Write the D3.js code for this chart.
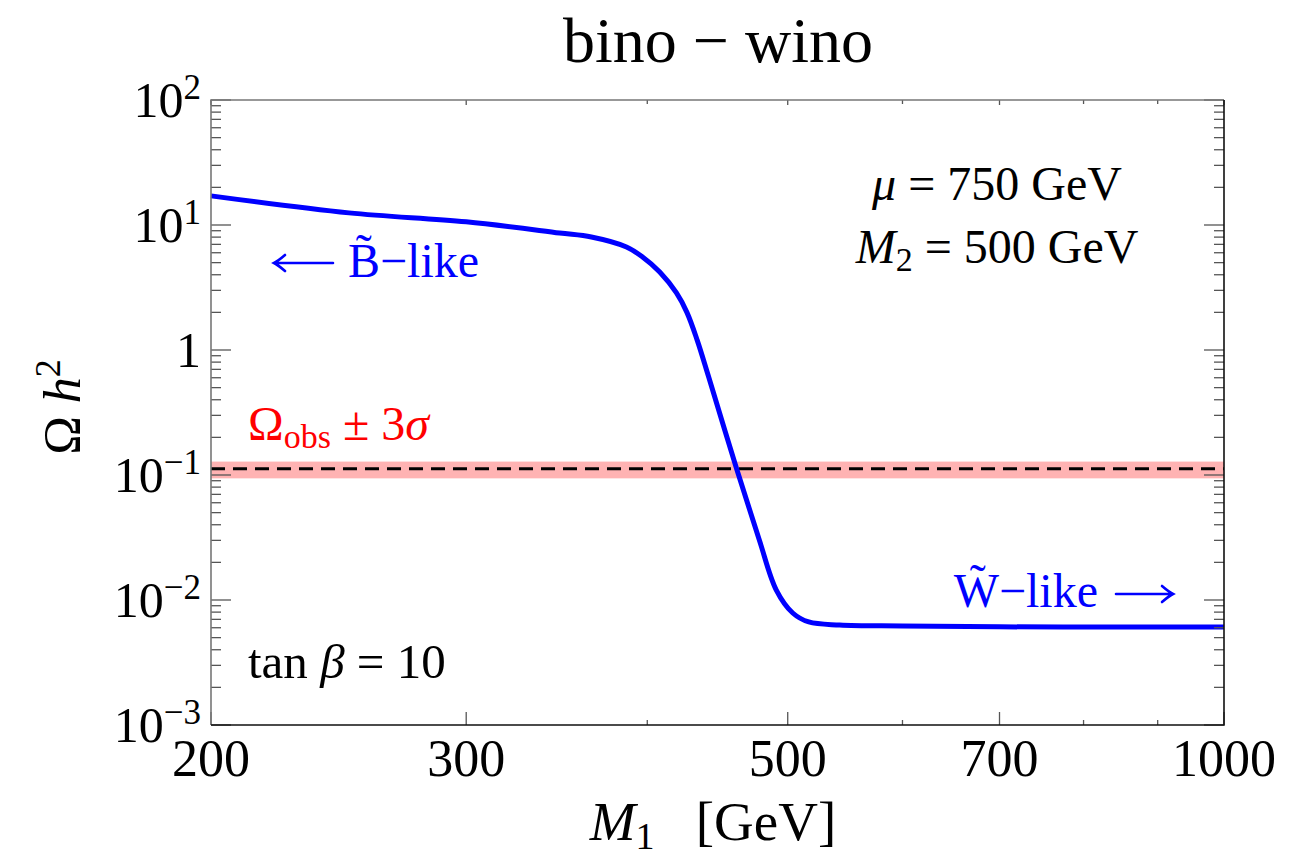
<!DOCTYPE html>
<html><head><meta charset="utf-8">
<script src="https://cdn.jsdelivr.net/npm/d3@7"></script>
<style>
body{margin:0;background:#fff}
text{font-family:"Liberation Serif","Times New Roman",Times,serif}
</style>
</head><body>
<svg id="c" width="1312" height="861"></svg>
<script>
// ---- data ----
const m1Values = [200, 249, 300, 348, 366, 387, 397, 408, 419, 426, 433, 441, 461, 478, 491, 504, 517, 543, 600, 700, 850, 1000];
const omegaValues = [17.1, 12.5, 10.6, 8.63, 8.02, 6.67, 5.55, 4.21, 2.86, 2.0, 1.2, 0.608, 0.112, 0.030, 0.012, 0.00787, 0.00667, 0.00631, 0.0062, 0.0061, 0.00608, 0.00608];
const omegaObs = 0.112;
const omegaBand = [0.094, 0.128];
const xMajorTicks = [200, 300, 500, 700, 1000];
const xMinorTicks = [400, 600, 800, 900];
const xTickLabels = ["200", "300", "500", "700", "1000"];
const yMajorExp = [-3, -2, -1, 0, 1, 2];

// ---- layout ----
const svg = d3.select("#c");
const L = 211, R = 1224, T = 100, B = 725;
const x = d3.scaleLog().domain([200, 1000]).range([L, R]);
const y = d3.scaleLog().domain([1e-3, 1e2]).range([B, T]);
const FS = 52;

// band + dashed line
svg.append("rect")
  .attr("x", L).attr("width", R - L)
  .attr("y", y(omegaBand[1])).attr("height", y(omegaBand[0]) - y(omegaBand[1]))
  .attr("fill", "#ffb3b3");
svg.append("line")
  .attr("x1", L).attr("x2", R).attr("y1", y(omegaObs)).attr("y2", y(omegaObs))
  .attr("stroke", "#000").attr("stroke-width", 3).attr("stroke-dasharray", "14,8");

// curve
const pts = m1Values.map((d, i) => [d, omegaValues[i]]);
svg.append("path")
  .datum(pts)
  .attr("fill", "none").attr("stroke", "#0000ff").attr("stroke-width", 5)
  .attr("d", d3.line().x(d => x(d[0])).y(d => y(d[1])).curve(d3.curveCatmullRom.alpha(0.5)));

// ticks
const yMinor = [];
yMajorExp.slice(0, -1).forEach(e => { for (let k = 2; k <= 9; k++) yMinor.push(k * Math.pow(10, e)); });
const yMajor = yMajorExp.map(e => Math.pow(10, e));
const tk = svg.append("g").attr("stroke", "#555").attr("stroke-width", 1.3);
yMajor.forEach(v => {
  tk.append("line").attr("x1", L).attr("x2", L + 20).attr("y1", y(v)).attr("y2", y(v));
  tk.append("line").attr("x1", R).attr("x2", R - 20).attr("y1", y(v)).attr("y2", y(v));
});
yMinor.forEach(v => {
  tk.append("line").attr("x1", L).attr("x2", L + 10).attr("y1", y(v)).attr("y2", y(v));
  tk.append("line").attr("x1", R).attr("x2", R - 10).attr("y1", y(v)).attr("y2", y(v));
});
xMajorTicks.forEach(v => {
  tk.append("line").attr("x1", x(v)).attr("x2", x(v)).attr("y1", B).attr("y2", B - 13);
  tk.append("line").attr("x1", x(v)).attr("x2", x(v)).attr("y1", T).attr("y2", T + 5);
});
xMinorTicks.forEach(v => {
  tk.append("line").attr("x1", x(v)).attr("x2", x(v)).attr("y1", B).attr("y2", B - 5);
  tk.append("line").attr("x1", x(v)).attr("x2", x(v)).attr("y1", T).attr("y2", T + 4);
});

// frame
svg.append("path").attr("d", `M${L},${B}V${T}H${R}`).attr("fill", "none").attr("stroke", "#777").attr("stroke-width", 1.6);
svg.append("path").attr("d", `M${L},${B}H${R}V${T}`).attr("fill", "none").attr("stroke", "#111").attr("stroke-width", 1.6);

// x tick labels
xMajorTicks.forEach((v, i) => {
  svg.append("text").attr("x", x(v)).attr("y", 776).attr("text-anchor", "middle")
    .attr("font-size", FS).text(xTickLabels[i]);
});
// y tick labels
yMajorExp.forEach(e => {
  const t = svg.append("text").attr("x", 201).attr("y", y(Math.pow(10, e)) + 17)
    .attr("text-anchor", "end").attr("font-size", 50);
  if (e === 0) { t.text("1"); return; }
  t.append("tspan").text("10");
  t.append("tspan").attr("dy", -18).attr("font-size", 35).text(e < 0 ? "\u2212" + (-e) : String(e));
});

// axis titles
svg.append("text").attr("x", 718).attr("y", 62).attr("text-anchor", "middle")
  .attr("font-size", 64).text("bino \u2212 wino");

const xl = svg.append("text").attr("x", 713).attr("y", 840).attr("text-anchor", "middle").attr("font-size", 55);
xl.append("tspan").attr("font-style", "italic").text("M");
xl.append("tspan").attr("font-size", 38).attr("dy", 9).text("1");
xl.append("tspan").attr("dy", -9).text("\u2002 [GeV]");

const yl = svg.append("text").attr("transform", "translate(80,407) rotate(-90)").attr("text-anchor", "middle").attr("font-size", 52);
yl.append("tspan").text("\u03A9 ");
yl.append("tspan").attr("font-style", "italic").text("h");
yl.append("tspan").attr("font-size", 36).attr("dy", -20).text("2");

// annotations
function ann(xp, yp, anchor, color) {
  return svg.append("text").attr("x", xp).attr("y", yp).attr("text-anchor", anchor)
    .attr("font-size", 48).attr("fill", color);
}
let a = ann(997, 200, "middle", "#000");
a.append("tspan").attr("font-style", "italic").text("\u03BC");
a.append("tspan").text(" = 750 GeV");

a = ann(997, 263, "middle", "#000");
a.append("tspan").attr("font-style", "italic").text("M");
a.append("tspan").attr("font-size", 34).attr("dy", 8).text("2");
a.append("tspan").attr("dy", -8).text(" = 500 GeV");

// long thin arrows drawn as paths
function arrow(xTail, xHead, yy) {
  const dir = xHead > xTail ? 1 : -1;
  svg.append("path")
    .attr("d", `M${xTail},${yy}H${xHead}M${xHead - dir * 11},${yy - 8}Q${xHead - dir * 4},${yy - 2} ${xHead},${yy}Q${xHead - dir * 4},${yy + 2} ${xHead - dir * 11},${yy + 8}`)
    .attr("fill", "none").attr("stroke", "#0000ff").attr("stroke-width", 2.6).attr("stroke-linecap", "round");
}
arrow(333, 274, 263);
ann(348, 277, "start", "#0000ff").text("B\u0303\u2212like");

ann(1098, 607, "end", "#0000ff").text("W\u0303\u2212like");
arrow(1116, 1173, 594);

a = ann(248, 678, "start", "#000").attr("font-size", 49);
a.append("tspan").text("tan ");
a.append("tspan").attr("font-style", "italic").text("\u03B2");
a.append("tspan").text(" = 10");

a = ann(248, 440, "start", "#ff0000");
a.append("tspan").text("\u03A9");
a.append("tspan").attr("font-size", 34).attr("dy", 8).text("obs");
a.append("tspan").attr("dy", -8).text(" \u00B1 3");
a.append("tspan").attr("font-style", "italic").text("\u03C3");
</script>
</body></html>
